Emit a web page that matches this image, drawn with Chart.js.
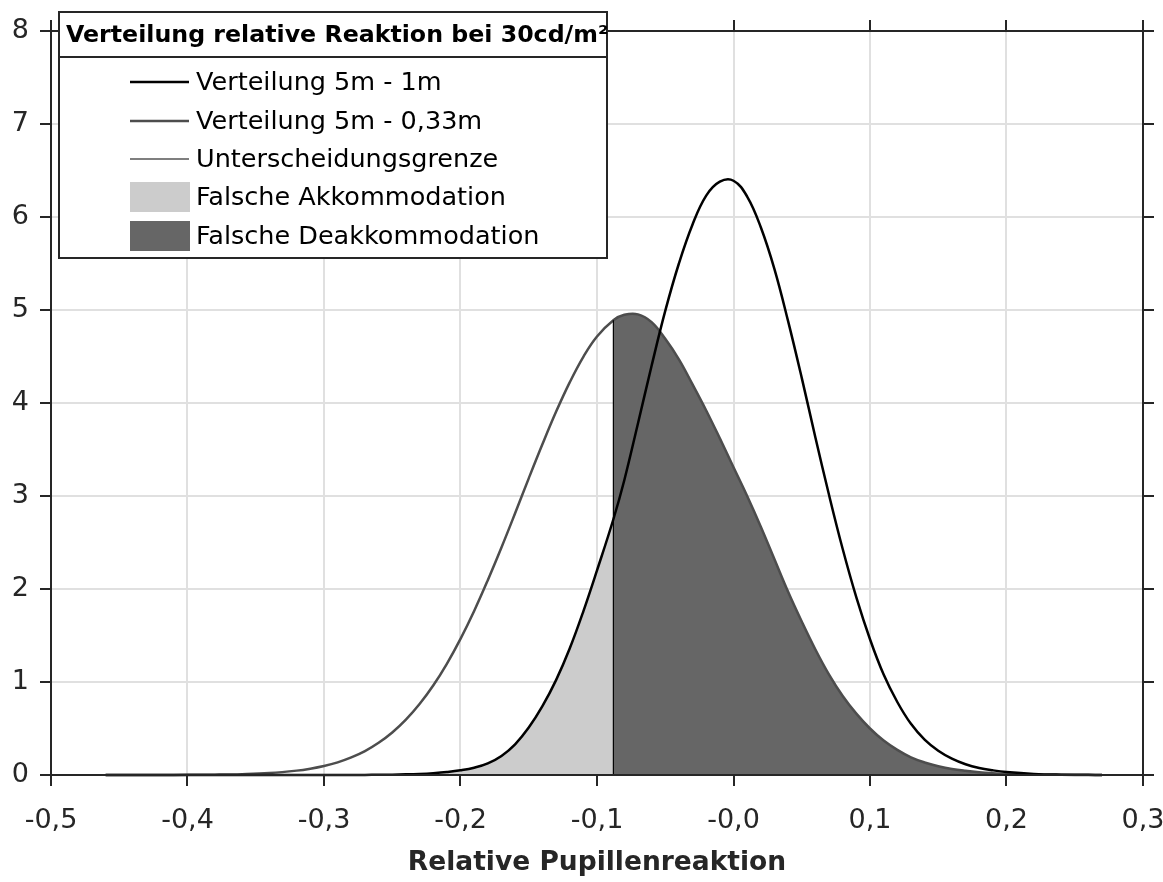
<!DOCTYPE html>
<html>
<head>
<meta charset="utf-8">
<script src="https://cdn.jsdelivr.net/npm/chart.js@4.4.1/dist/chart.umd.min.js"></script>
<style>
  html, body { margin: 0; padding: 0; background: #fff; }
  #wrap { width: 1163px; height: 882px; }
</style>
</head>
<body>
<div id="wrap"><canvas id="chart" width="1163" height="882"></canvas></div>
<script>
// Werte
const xWerte = [
  -0.46, -0.44, -0.42, -0.40, -0.38, -0.36, -0.34, -0.32,
  -0.31, -0.30, -0.29, -0.28, -0.27, -0.26, -0.25,
  -0.24, -0.23, -0.22, -0.21, -0.20, -0.19, -0.18, -0.17, -0.16, -0.15, -0.14, -0.13, -0.12, -0.11, -0.10,
  -0.088,
  -0.08, -0.07, -0.06, -0.05, -0.04, -0.03, -0.02, -0.01, 0.00, 0.01, 0.02, 0.03, 0.04, 0.05, 0.06,
  0.07, 0.08, 0.09, 0.10, 0.11, 0.12, 0.13, 0.14, 0.15, 0.16, 0.17, 0.18, 0.19,
  0.20, 0.22, 0.24, 0.26, 0.27
];
const verteilung1m = [
  0, 0, 0, 0, 0, 0, 0, 0,
  0, 0, 0, 0.0005, 0.001, 0.002, 0.004,
  0.007, 0.012, 0.02, 0.032, 0.05, 0.078, 0.125, 0.205, 0.33, 0.51, 0.74, 1.02, 1.36, 1.76, 2.2,
  2.75,
  3.17, 3.78, 4.40, 4.99, 5.50, 5.92, 6.23, 6.38, 6.39, 6.22, 5.89, 5.44, 4.88, 4.27, 3.63,
  3.01, 2.43, 1.91, 1.46, 1.08, 0.785, 0.55, 0.38, 0.26, 0.175, 0.115, 0.075, 0.05,
  0.032, 0.012, 0.004, 0.0015, 0.001
];
const verteilung033m = [
  0, 0.0002, 0.0005, 0.0014, 0.0036, 0.009, 0.021, 0.047,
  0.068, 0.097, 0.136, 0.189, 0.257, 0.346, 0.457,
  0.595, 0.763, 0.962, 1.196, 1.464, 1.764, 2.095, 2.446, 2.814, 3.19, 3.556, 3.905, 4.222, 4.497, 4.715,
  4.89,
  4.948, 4.953, 4.87, 4.69, 4.47, 4.2, 3.92, 3.62, 3.31, 3.0, 2.67, 2.32, 1.97, 1.65, 1.35,
  1.08, 0.85, 0.66, 0.50, 0.37, 0.27, 0.19, 0.135, 0.095, 0.065, 0.045, 0.03, 0.02,
  0.013, 0.005, 0.002, 0.0006, 0.0003
];
const grenzeX = -0.088;
const grenzeY = 4.89; // Höhe der Verteilung 5m - 0,33m an der Grenze

const xTickLabels = ['-0,5', '-0,4', '-0,3', '-0,2', '-0,1', '-0,0', '0,1', '0,2', '0,3'];
const yTickLabels = ['0', '1', '2', '3', '4', '5', '6', '7', '8'];

const legendTitel = 'Verteilung relative Reaktion bei 30cd/m²';
const legendTexte = [
  'Verteilung 5m - 1m',
  'Verteilung 5m - 0,33m',
  'Unterscheidungsgrenze',
  'Falsche Akkommodation',
  'Falsche Deakkommodation'
];

const farbeAchse = '#262626';
const farbe1m = '#000000';
const farbe033m = '#4d4d4d';
const farbeHell = '#cccccc';
const farbeDunkel = '#666666';
const schrift = '"DejaVu Sans", "Liberation Sans", sans-serif';

const punkte1m = xWerte.map((x, i) => ({ x: x, y: verteilung1m[i] }));
const punkte033m = xWerte.map((x, i) => ({ x: x, y: verteilung033m[i] }));

// Rahmen mit Ticks auf allen vier Seiten
const rahmenPlugin = {
  id: 'rahmen',
  afterDraw(chart) {
    const ctx = chart.ctx;
    const a = chart.chartArea;
    const sx = chart.scales.x, sy = chart.scales.y;
    const tl = 11;
    ctx.save();
    ctx.strokeStyle = farbeAchse;
    ctx.lineWidth = 2;
    ctx.strokeRect(a.left, a.top, a.right - a.left, a.bottom - a.top);
    ctx.beginPath();
    sx.ticks.forEach(t => {
      const px = Math.round(sx.getPixelForValue(t.value));
      ctx.moveTo(px, a.bottom); ctx.lineTo(px, a.bottom + tl);
      ctx.moveTo(px, a.top); ctx.lineTo(px, a.top - tl);
    });
    sy.ticks.forEach(t => {
      const py = Math.round(sy.getPixelForValue(t.value));
      ctx.moveTo(a.left, py); ctx.lineTo(a.left - tl, py);
      ctx.moveTo(a.right, py); ctx.lineTo(a.right + tl, py);
    });
    ctx.stroke();
    ctx.restore();
  }
};

// Legende im Stil der Vorlage
const legendePlugin = {
  id: 'legende',
  afterDraw(chart) {
    const ctx = chart.ctx;
    const lx = 59, ly = 12, lw = 548, lh = 246, th = 45;
    ctx.save();
    ctx.fillStyle = '#ffffff';
    ctx.fillRect(lx, ly, lw, lh);
    ctx.strokeStyle = farbeAchse;
    ctx.lineWidth = 2;
    ctx.strokeRect(lx, ly, lw, lh);
    ctx.beginPath();
    ctx.moveTo(lx, ly + th); ctx.lineTo(lx + lw, ly + th);
    ctx.stroke();

    ctx.fillStyle = '#000';
    ctx.textBaseline = 'middle';
    ctx.font = 'bold 23.7px ' + schrift;
    ctx.fillText(legendTitel, 66, ly + th / 2 + 1);

    ctx.font = '25.5px ' + schrift;
    const zeilen = [82, 121, 159, 197, 236];
    const stile = [
      { typ: 'linie', farbe: farbe1m, breite: 2.5 },
      { typ: 'linie', farbe: farbe033m, breite: 2.5 },
      { typ: 'linie', farbe: farbe1m, breite: 1.2 },
      { typ: 'flaeche', farbe: farbeHell },
      { typ: 'flaeche', farbe: farbeDunkel }
    ];
    legendTexte.forEach((text, i) => {
      const y = zeilen[i];
      const s = stile[i];
      if (s.typ === 'linie') {
        ctx.strokeStyle = s.farbe;
        ctx.lineWidth = s.breite;
        ctx.beginPath();
        ctx.moveTo(130, y); ctx.lineTo(189, y);
        ctx.stroke();
      } else {
        ctx.fillStyle = s.farbe;
        ctx.fillRect(130, y - 15, 60, 30);
      }
      ctx.fillStyle = '#000';
      ctx.fillText(text, 196, y + 1);
    });
    ctx.restore();
  }
};

new Chart(document.getElementById('chart'), {
  type: 'scatter',
  data: {
    datasets: [
      {
        label: 'Falsche Akkommodation',
        data: punkte1m.filter(p => p.x <= grenzeX),
        showLine: true,
        fill: 'origin',
        backgroundColor: farbeHell,
        borderWidth: 0,
        pointRadius: 0,
        tension: 0.4,
        order: 5
      },
      {
        label: 'Falsche Deakkommodation',
        data: punkte033m.filter(p => p.x >= grenzeX),
        showLine: true,
        fill: 'origin',
        backgroundColor: farbeDunkel,
        borderWidth: 0,
        pointRadius: 0,
        tension: 0.4,
        order: 4
      },
      {
        label: 'Verteilung 5m - 0,33m',
        data: punkte033m,
        showLine: true,
        borderColor: farbe033m,
        borderWidth: 2.5,
        pointRadius: 0,
        tension: 0.4,
        clip: 4,
        order: 3
      },
      {
        label: 'Unterscheidungsgrenze',
        data: [{ x: grenzeX, y: 0 }, { x: grenzeX, y: grenzeY }],
        showLine: true,
        borderColor: farbe1m,
        borderWidth: 1.2,
        pointRadius: 0,
        order: 2
      },
      {
        label: 'Verteilung 5m - 1m',
        data: punkte1m,
        showLine: true,
        borderColor: farbe1m,
        borderWidth: 2.5,
        pointRadius: 0,
        tension: 0.4,
        clip: 4,
        order: 1
      }
    ]
  },
  options: {
    responsive: false,
    animation: false,
    devicePixelRatio: 1,
    layout: { padding: { top: 31, right: 20, bottom: 0, left: 0 } },
    plugins: {
      legend: { display: false },
      tooltip: { enabled: false }
    },
    scales: {
      x: {
        type: 'linear',
        min: -0.5,
        max: 0.3,
        border: { display: false },
        grid: { color: '#e0e0e0', lineWidth: 2, drawTicks: false },
        ticks: {
          stepSize: 0.1,
          padding: 30,
          color: farbeAchse,
          font: { family: schrift, size: 27 },
          maxRotation: 0,
          autoSkip: false,
          callback: (v, i) => xTickLabels[i]
        },
        title: {
          display: true,
          text: 'Relative Pupillenreaktion',
          color: farbeAchse,
          font: { family: schrift, size: 26.5, weight: 'bold' },
          padding: { top: 0, bottom: 3 }
        },
        afterFit: s => { s.height = 107; s.paddingLeft = 0; s.paddingRight = 0; }
      },
      y: {
        min: 0,
        max: 8,
        border: { display: false },
        grid: { color: '#e0e0e0', lineWidth: 2, drawTicks: false },
        ticks: {
          stepSize: 1,
          padding: 22,
          color: farbeAchse,
          font: { family: schrift, size: 27 },
          callback: (v, i) => yTickLabels[i]
        },
        afterFit: s => { s.width = 51; s.paddingTop = 0; s.paddingBottom = 0; }
      }
    }
  },
  plugins: [rahmenPlugin, legendePlugin]
});
</script>
</body>
</html>
